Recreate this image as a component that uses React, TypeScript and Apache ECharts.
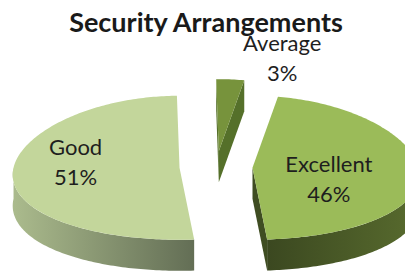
import React, { useEffect, useRef } from "react";
import * as echarts from "echarts";

const chartTitle = "Security Arrangements";
const categories = ["Average", "Excellent", "Good"];
const values = [3, 46, 51];
const topColors = ["#77933c", "#9bbb59", "#c3d69b"];
const wallColors = [
  ["#5e772c", "#6f8a37"],
  ["#3b4820", "#586b2e"],
  ["#abbb8d", "#636e55"],
];
const faceColors = ["#55702a", "#3f4d22", "#7d8a66"];

// label placement (fraction of radius along mid angle, then nudge)
const labelLayout = [
  { f: 1.0, dx: 52, dy: -22 },
  { f: 0.46, dx: 0, dy: 9 },
  { f: 0.625, dx: 0, dy: -8 },
];

const GEO = { cx: 216, cy: 167, rx: 166, ry: 72, k: 0.1, e: 0.22, t: 31, start: -1 };

const total = values.reduce((a, b) => a + b, 0);
const cumStart: number[] = [];
{
  let acc = 0;
  values.forEach((v) => {
    cumStart.push(acc);
    acc += v;
  });
}

const rad = (d: number) => (d * Math.PI) / 180;

export default function App() {
  const ref = useRef<HTMLDivElement>(null);
  useEffect(() => {
    if (!ref.current) return;
    const chart = echarts.init(ref.current, undefined, { renderer: "svg" });

    const renderItem = (params: any, api: any) => {
      const idx = params.dataIndex;
      const v = api.value(0);
      const c0 = api.value(1);
      const a = GEO.start + (c0 / total) * 360;
      const b = a + (v / total) * 360;
      const m = (a + b) / 2;
      const scx = GEO.cx + GEO.rx * GEO.e * Math.sin(rad(m));
      const scy = GEO.cy - GEO.ry * GEO.e * Math.cos(rad(m));
      const P = (th: number, f = 1, drop = 0) => {
        const X = f * Math.sin(rad(th));
        const Z = f * Math.cos(rad(th));
        const p = 1 - GEO.k * Z;
        return [scx + GEO.rx * X * p, scy - GEO.ry * Z + drop];
      };
      const arc = (a0: number, b0: number, drop: number) => {
        const pts: number[][] = [];
        const n = Math.max(2, Math.ceil((b0 - a0) / 1));
        for (let i = 0; i <= n; i++) pts.push(P(a0 + ((b0 - a0) * i) / n, 1, drop));
        return pts;
      };
      const children: any[] = [];
      const face = (th: number) => ({
        type: "polygon",
        shape: { points: [P(th, 0), P(th, 1), P(th, 1, GEO.t), P(th, 0, GEO.t)] },
        style: { fill: faceColors[idx] },
      });
      if (Math.sin(rad(a)) < -0.001) children.push(face(a));
      if (Math.sin(rad(b)) > 0.001) children.push(face(b));
      const lo = Math.max(a, 90);
      const hi = Math.min(b, 270);
      if (hi > lo) {
        const pts = arc(lo, hi, 0).concat(arc(lo, hi, GEO.t).reverse());
        children.push({
          type: "polygon",
          shape: { points: pts },
          style: {
            fill: {
              type: "linear",
              x: 0,
              y: 0,
              x2: 1,
              y2: 0,
              colorStops: [
                { offset: 0, color: wallColors[idx][0] },
                { offset: 1, color: wallColors[idx][1] },
              ],
            },
          },
        });
      }
      children.push({
        type: "polygon",
        shape: { points: [P(a, 0)].concat(arc(a, b, 0)) },
        style: { fill: topColors[idx] },
      });
      const L = labelLayout[idx];
      const lp = P(m, L.f);
      children.push({
        type: "text",
        style: {
          text: categories[idx] + "\n" + Math.round((v / total) * 100) + "%",
          x: lp[0] + L.dx,
          y: lp[1] + L.dy,
          fill: "#1e1e1e",
          fontSize: 22,
          fontFamily: "Lato",
          align: "center",
          verticalAlign: "middle",
          lineHeight: 30,
        },
      });
      return { type: "group", children };
    };

    chart.setOption({
      animation: false,
      graphic: [
        {
          type: "text",
          x: 206,
          y: 21,
          z: 10,
          style: {
            text: chartTitle,
            fontSize: 27,
            fontWeight: "bold",
            fontFamily: "Lato",
            fill: "#1a1a1a",
            align: "center",
            verticalAlign: "middle",
          },
        },
      ],
      series: [
        {
          type: "custom",
          coordinateSystem: "none",
          renderItem,
          data: values.map((v, i) => ({ name: categories[i], value: [v, cumStart[i]] })),
        },
      ],
    });
    return () => chart.dispose();
  }, []);
  return (
    <div
      ref={ref}
      style={{ position: "fixed", left: 0, top: 0, width: 405, height: 274, background: "#fff" }}
    />
  );
}
